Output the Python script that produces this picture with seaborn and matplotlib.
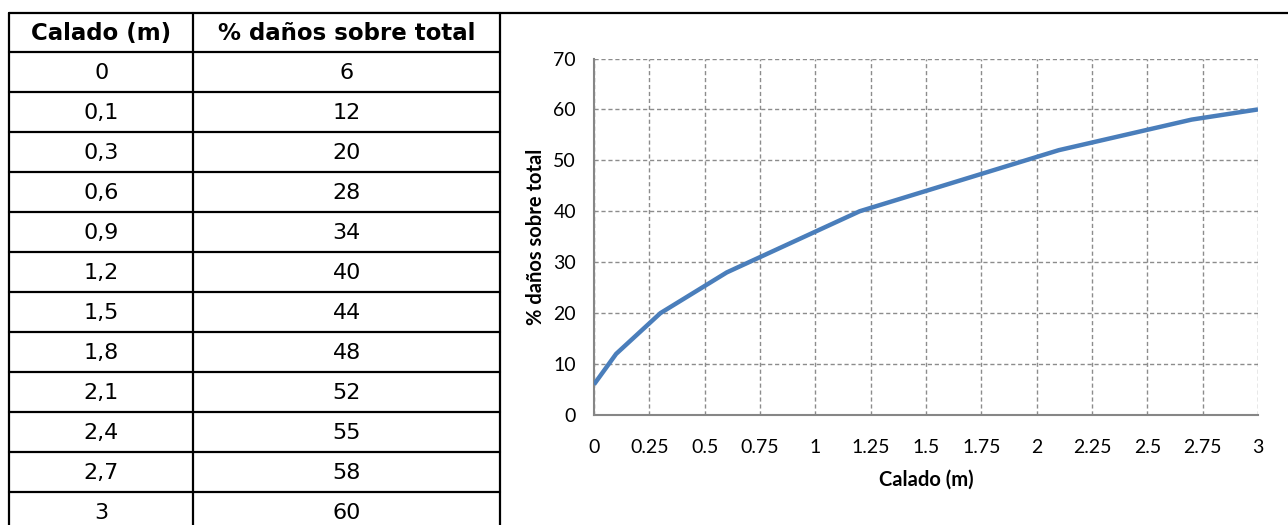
import matplotlib
matplotlib.use("Agg")
import matplotlib.pyplot as plt
import seaborn as sns
from matplotlib.lines import Line2D

# Depth-damage data
calado = [0, 0.1, 0.3, 0.6, 0.9, 1.2, 1.5, 1.8, 2.1, 2.4, 2.7, 3]
danos = [6, 12, 20, 28, 34, 40, 44, 48, 52, 55, 58, 60]
header = ["Calado (m)", "% daños sobre total"]
x_ticks = [0, 0.25, 0.5, 0.75, 1, 1.25, 1.5, 1.75, 2, 2.25, 2.5, 2.75, 3]
x_tick_labels = ["0", "0.25", "0.5", "0.75", "1", "1.25", "1.5", "1.75", "2",
                 "2.25", "2.5", "2.75", "3"]
y_ticks = [0, 10, 20, 30, 40, 50, 60, 70]

sns.set_style("white")
plt.rcParams["font.family"] = ["DejaVu Sans"]
plt.rcParams["text.color"] = "black"

W, H = 1288, 525
fig = plt.figure(figsize=(W / 100, H / 100), dpi=100)

# ---- table drawn in pixel coordinates on an overlay axes ----
tax = fig.add_axes([0, 0, 1, 1])
tax.set_xlim(0, W)
tax.set_ylim(H, 0)
tax.axis("off")

lw = 1.6
left_x, mid_x, right_x = 9.5, 193, 500.5
top_y, header_bottom, row_h = 12.5, 52, 40

# top rule across the whole width
tax.add_line(Line2D([left_x, W], [top_y, top_y], color="black", lw=lw))
# vertical rules
for xv in (left_x, mid_x, right_x):
    tax.add_line(Line2D([xv, xv], [top_y, H + 5], color="black", lw=lw))
# horizontal rules
n_rows = len(calado)
for i in range(n_rows):
    yv = header_bottom + i * row_h
    tax.add_line(Line2D([left_x, right_x], [yv, yv], color="black", lw=lw))

c1 = (left_x + mid_x) / 2
c2 = (mid_x + right_x) / 2
for cx, txt in zip((c1, c2), header):
    tax.text(cx, (top_y + header_bottom) / 2 + 1, txt, ha="center", va="center",
             fontsize=16.5, fontweight="bold", color="black")


def fmt(v):
    return ("%g" % v).replace(".", ",")


for i, (cv, dv) in enumerate(zip(calado, danos)):
    yc = header_bottom + i * row_h + row_h / 2 + 1
    tax.text(c1, yc, fmt(cv), ha="center", va="center", fontsize=16,
             color="black")
    tax.text(c2, yc, fmt(dv), ha="center", va="center", fontsize=16,
             color="black")

# ---- line chart ----
ax = fig.add_axes([594 / W, 1 - 415 / H, (1258 - 594) / W, (415 - 58.5) / H])
sns.lineplot(x=calado, y=danos, ax=ax, color="#4A7EBB", linewidth=3.2,
             solid_capstyle="butt", zorder=3)
ax.set_xlim(0, 3)
ax.set_ylim(0, 70)
ax.set_xticks(x_ticks)
ax.set_xticklabels(x_tick_labels)
ax.set_yticks(y_ticks)

grid_col = "#8C8C8C"
ax.grid(True, color=grid_col, linestyle=(0, (3, 2)), linewidth=1.0)
ax.set_axisbelow(True)
for side in ("top", "right"):
    ax.spines[side].set_visible(False)
for side in ("left", "bottom"):
    ax.spines[side].set_color("#868686")
    ax.spines[side].set_linewidth(1.5)
    ax.spines[side].set_zorder(2.5)

ax.tick_params(axis="both", colors="#868686", labelcolor="black",
               direction="out", length=5, width=1.2, labelsize=14)
ax.tick_params(axis="x", pad=12)
ax.tick_params(axis="y", pad=8)
for lab in ax.get_xticklabels() + ax.get_yticklabels():
    lab.set_family("Lato")

ax.set_xlabel("Calado (m)", fontsize=14.5, fontweight="bold", family="Lato",
              labelpad=10, color="black")
ax.set_ylabel("% daños sobre total", fontsize=14.5, fontweight="bold",
              family="Lato", labelpad=5, color="black")

fig.savefig("out.png", dpi=100)
